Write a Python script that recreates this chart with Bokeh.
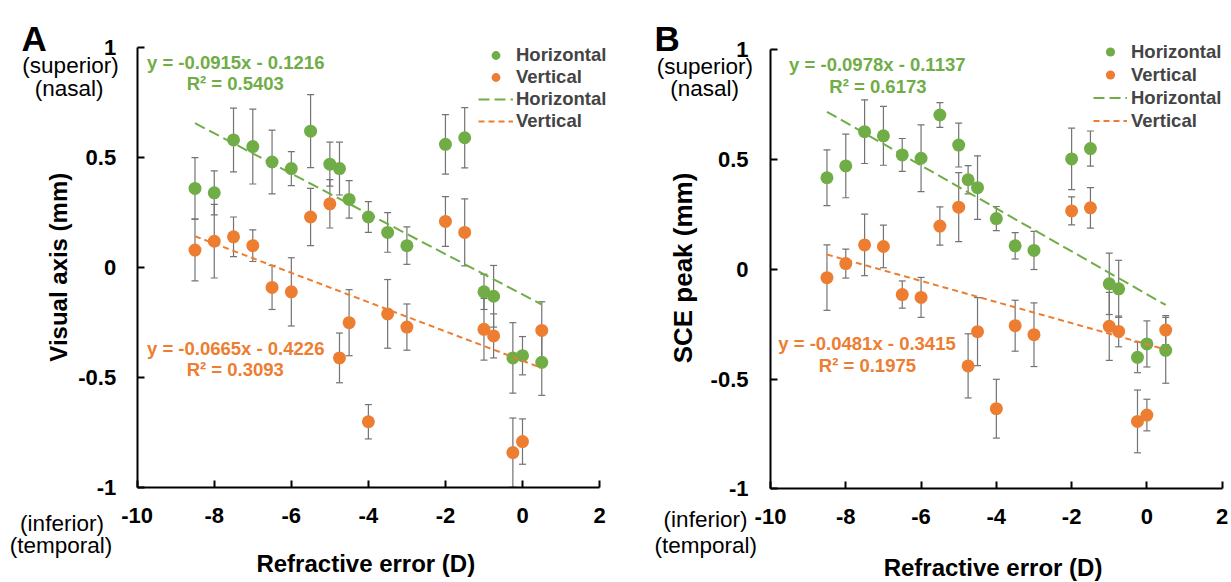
import math
from bokeh.plotting import figure
from bokeh.models import (Range1d, FixedTicker, Whisker, TeeHead, ColumnDataSource,
                          Label, Legend, LegendItem)
from bokeh.layouts import row
from bokeh.embed import file_html
from bokeh.resources import INLINE

# ---------------- data ----------------
refractive_error = [-8.5, -8, -7.5, -7, -6.5, -6, -5.5, -5, -4.75, -4.5,
                    -4, -3.5, -3, -2, -1.5, -1, -0.75, -0.25, 0, 0.5]

# Panel A: visual axis (mm)
a_horizontal = [0.36, 0.34, 0.58, 0.55, 0.48, 0.45, 0.62, 0.47, 0.45, 0.31,
                0.23, 0.16, 0.10, 0.56, 0.59, -0.11, -0.13, -0.41, -0.40, -0.43]
a_horizontal_err = [0.14, 0.10, 0.145, 0.17, 0.145, 0.077, 0.166, 0.10, 0.12, 0.085,
                    0.07, 0.09, 0.085, 0.135, 0.137, 0.08, 0.14, 0.16, 0.087, 0.15]
a_vertical = [0.08, 0.12, 0.14, 0.10, -0.09, -0.11, 0.23, 0.29, -0.41, -0.25,
              -0.70, -0.21, -0.27, 0.21, 0.16, -0.28, -0.31, -0.84, -0.79, -0.285]
a_vertical_err = [0.14, 0.167, 0.09, 0.072, 0.10, 0.155, 0.13, 0.11, 0.113, 0.15,
                  0.078, 0.156, 0.105, 0.113, 0.152, 0.14, 0.10, 0.157, 0.103, 0.13]

# Panel B: SCE peak (mm)
b_horizontal = [0.417, 0.471, 0.627, 0.608, 0.521, 0.506, 0.703, 0.566, 0.408, 0.372,
                0.231, 0.107, 0.086, 0.503, 0.55, -0.066, -0.089, -0.401, -0.34, -0.369]
b_horizontal_err = [0.127, 0.145, 0.145, 0.134, 0.075, 0.152, 0.056, 0.10, 0.064, 0.145,
                    0.055, 0.06, 0.087, 0.14, 0.08, 0.14, 0.13, 0.07, 0.105, 0.15]
b_vertical = [-0.038, 0.026, 0.111, 0.104, -0.115, -0.128, 0.197, 0.283, -0.44, -0.284,
              -0.635, -0.257, -0.298, 0.266, 0.28, -0.26, -0.283, -0.693, -0.664, -0.277]
b_vertical_err = [0.149, 0.066, 0.14, 0.097, 0.062, 0.091, 0.087, 0.157, 0.146, 0.155,
                  0.134, 0.116, 0.145, 0.064, 0.092, 0.155, 0.07, 0.143, 0.072, 0.066]

# linear fits (slope, intercept, R^2) for [Horizontal, Vertical]
a_fit_slope = [-0.0915, -0.0665]
a_fit_intercept = [-0.1216, -0.4226]
a_fit_r2 = [0.5403, 0.3093]
b_fit_slope = [-0.0978, -0.0481]
b_fit_intercept = [-0.1137, -0.3415]
b_fit_r2 = [0.6173, 0.1975]

series_names = ["Horizontal", "Vertical"]
x_ticks = [-10, -8, -6, -4, -2, 0, 2]
x_tick_labels = ["-10", "-8", "-6", "-4", "-2", "0", "2"]
y_ticks = [-1, -0.5, 0, 0.5, 1]
y_tick_labels = ["-1", "-0.5", "0", "0.5", "1"]
x_title = "Refractive error (D)"
side_top = ["(superior)", "(nasal)"]
side_bottom = ["(inferior)", "(temporal)"]

# ---------------- style ----------------
GREEN = "#70AD47"
ORANGE = "#ED7D31"
ERR = "#737373"
FONT = "Liberation Sans"
H = 582


def make_panel(cfg, hy, hy_err, vy, vy_err, slopes, intercepts, r2s, y_title, letter):
    x0, W = cfg["x0"], cfg["width"]
    axl, xs = cfg["ax_left"], cfg["xscale"]
    axt, ys = cfg["ax_top"], cfg["yscale"]

    def px2x(px):
        return -10 + (px - axl) / xs

    def py2y(py):
        return 1 - (py - axt) / ys

    p = figure(width=W, height=H,
               x_range=Range1d(px2x(x0), px2x(x0 + W)),
               y_range=Range1d(py2y(H), py2y(0)),
               output_backend="svg", toolbar_location=None,
               min_border_left=0, min_border_right=0, min_border_top=0, min_border_bottom=0)
    p.outline_line_color = None
    p.xgrid.visible = False
    p.ygrid.visible = False
    p.background_fill_color = "white"
    p.border_fill_color = "white"

    for ax in (p.xaxis[0], p.yaxis[0]):
        ax.axis_line_color = "black"
        ax.axis_line_width = 2
        ax.major_tick_line_color = "black"
        ax.major_tick_line_width = 2
        ax.major_tick_in = 7
        ax.major_tick_out = 0
        ax.minor_tick_line_color = None
        ax.major_label_text_font = FONT
        ax.major_label_text_font_style = "bold"
        ax.major_label_text_font_size = "22px"
        ax.major_label_text_color = "black"
    xa, ya = p.xaxis[0], p.yaxis[0]
    xa.ticker = FixedTicker(ticks=x_ticks)
    xa.major_label_overrides = dict(zip(x_ticks, x_tick_labels))
    xa.bounds = (-10, 2)
    xa.fixed_location = -1
    xa.major_label_standoff = cfg["xstand"]
    ya.ticker = FixedTicker(ticks=y_ticks)
    ya.major_label_overrides = dict(zip(y_ticks, y_tick_labels))
    ya.bounds = (-1, 1)
    ya.fixed_location = -10
    ya.major_label_standoff = cfg["ystand"]

    # error bars
    for vals, errs in ((hy, hy_err), (vy, vy_err)):
        src = ColumnDataSource(dict(x=refractive_error,
                                    lower=[v - e for v, e in zip(vals, errs)],
                                    upper=[v + e for v, e in zip(vals, errs)]))
        w = Whisker(source=src, base="x", lower="lower", upper="upper", dimension="height",
                    line_color=ERR, line_width=1.2, level="underlay",
                    upper_head=TeeHead(size=7, line_color=ERR, line_width=1.2),
                    lower_head=TeeHead(size=7, line_color=ERR, line_width=1.2))
        p.add_layout(w)

    rh = p.scatter(refractive_error, hy, size=13, marker="circle", fill_color=GREEN, line_color=None)
    rv = p.scatter(refractive_error, vy, size=13, marker="circle", fill_color=ORANGE, line_color=None)

    fx = [min(refractive_error), max(refractive_error)]
    lh = p.line(fx, [slopes[0] * x + intercepts[0] for x in fx], line_color=GREEN,
                line_width=2, line_dash="11 5")
    lv = p.line(fx, [slopes[1] * x + intercepts[1] for x in fx], line_color=ORANGE,
                line_width=2, line_dash="6 4")

    lg = cfg["legend"]
    legend = Legend(items=[LegendItem(label=series_names[0], renderers=[rh]),
                           LegendItem(label=series_names[1], renderers=[rv]),
                           LegendItem(label=series_names[0], renderers=[lh]),
                           LegendItem(label=series_names[1], renderers=[lv])],
                    location=(lg["x"] - x0, H - lg["bottom"]), orientation="vertical",
                    padding=0, margin=0, spacing=0, glyph_width=lg["gw"],
                    glyph_height=lg["rh"], label_height=lg["rh"], label_standoff=lg["st"],
                    label_text_font=FONT, label_text_font_style="bold",
                    label_text_font_size="18.5px", border_line_color=None,
                    background_fill_alpha=0)
    p.add_layout(legend)

    def lab(text, pos, size, bold=True, color="black", baseline="middle", angle=0.0):
        p.add_layout(Label(x=px2x(pos[0]), y=py2y(pos[1]), text=text, text_font=FONT,
                           text_font_size=size, text_font_style="bold" if bold else "normal",
                           text_color=color, text_align="center", text_baseline=baseline,
                           angle=angle))

    pos = cfg["labels"]
    lab(letter, pos["letter"], "35px", baseline="alphabetic")
    lab(side_top[0], pos["sup"], "22.5px", bold=False)
    lab(side_top[1], pos["nas"], "22.5px", bold=False)
    lab(side_bottom[0], pos["inf"], "22.5px", bold=False)
    lab(side_bottom[1], pos["tem"], "22.5px", bold=False)
    lab(f"y = {slopes[0]}x - {abs(intercepts[0])}", pos["eqh"], "18.5px", color=GREEN)
    lab(f"R² = {r2s[0]}", pos["r2h"], "18.5px", color=GREEN)
    lab(f"y = {slopes[1]}x - {abs(intercepts[1])}", pos["eqv"], "18.5px", color=ORANGE)
    lab(f"R² = {r2s[1]}", pos["r2v"], "18.5px", color=ORANGE)
    lab(x_title, pos["xt"], "24px")
    lab(y_title, pos["yt"], cfg["ytsize"], angle=math.pi / 2)
    return p


cfg_a = dict(x0=0, width=630, ax_left=136.7, xscale=38.53, ax_top=47, yscale=220.15,
             xstand=20, ystand=21, ytsize="24px",
             legend=dict(x=478, bottom=132, gw=35, rh=22, st=3),
             labels=dict(letter=(33.6, 37.7), sup=(70, 65), nas=(68.6, 88),
                         inf=(61.5, 523.3), tem=(60.4, 545),
                         eqh=(235.2, 62.3), r2h=(234.8, 82.7),
                         eqv=(235.2, 348.3), r2v=(234.8, 369),
                         xt=(365.3, 563.3), yt=(57.5, 266.7)))
cfg_b = dict(x0=630, width=601, ax_left=770, xscale=37.64, ax_top=49.3, yscale=219.5,
             xstand=20, ystand=22, ytsize="26px",
             legend=dict(x=1093, bottom=132.2, gw=34, rh=23, st=4),
             labels=dict(letter=(666.6, 37.7), sup=(704.3, 66), nas=(704.2, 88),
                         inf=(705, 519.3), tem=(705.2, 545),
                         eqh=(876.8, 64.3), r2h=(877.4, 85.7),
                         eqv=(866.5, 343.3), r2v=(866.9, 365),
                         xt=(992.5, 566.5), yt=(682.5, 267.5)))

pa = make_panel(cfg_a, a_horizontal, a_horizontal_err, a_vertical, a_vertical_err,
                a_fit_slope, a_fit_intercept, a_fit_r2, "Visual axis (mm)", "A")
pb = make_panel(cfg_b, b_horizontal, b_horizontal_err, b_vertical, b_vertical_err,
                b_fit_slope, b_fit_intercept, b_fit_r2, "SCE peak (mm)", "B")

layout = row(pa, pb)
open("out.html", "w").write(file_html(layout, INLINE))
